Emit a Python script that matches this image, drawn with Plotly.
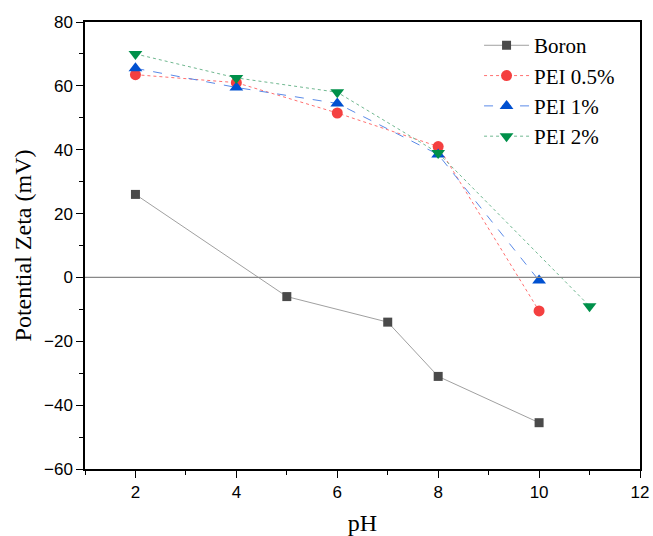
import plotly.graph_objects as go

boron_x = [2, 5, 7, 8, 10]
boron_y = [26, -6, -14, -31, -45.5]
pei05_x = [2, 4, 6, 8, 10]
pei05_y = [63.5, 61, 51.5, 41, -10.5]
pei1_x = [2, 4, 6, 8, 10]
pei1_y = [65.5, 59.5, 54.5, 38.5, -1]
pei2_x = [2, 4, 6, 8, 11]
pei2_y = [70, 62.5, 58, 39, -9]

fig = go.Figure()
fig.add_trace(go.Scatter(x=boron_x, y=boron_y, name="Boron", mode="lines+markers",
                         line=dict(color="#a0a0a0", width=1),
                         marker=dict(symbol="square", size=9, color="#4a4a4a")))
fig.add_trace(go.Scatter(x=pei05_x, y=pei05_y, name="PEI 0.5%", mode="lines+markers",
                         line=dict(color="#ff7070", width=1, dash="dot"),
                         marker=dict(symbol="circle", size=11, color="#f44040")))
fig.add_trace(go.Scatter(x=pei1_x, y=pei1_y, name="PEI 1%", mode="lines+markers",
                         line=dict(color="#5a8ae8", width=1, dash="dash"),
                         marker=dict(symbol="triangle-up", size=12, color="#0050d0")))
fig.add_trace(go.Scatter(x=pei2_x, y=pei2_y, name="PEI 2%", mode="lines+markers",
                         line=dict(color="#70b890", width=1, dash="dot"),
                         marker=dict(symbol="triangle-down", size=12, color="#00904a")))

fig.add_hline(y=0, line=dict(color="#888888", width=1.2))

axis_common = dict(showline=True, linecolor="black", linewidth=1.5, mirror=True,
                   ticks="outside", ticklen=7, tickwidth=1.2, tickcolor="black",
                   showgrid=False, zeroline=False, automargin=False,
                   tickfont=dict(family="Liberation Sans, Arial", size=17, color="black"))

fig.update_xaxes(range=[1, 12], tickvals=[2, 4, 6, 8, 10, 12],
                 minor=dict(tickvals=[1, 3, 5, 7, 9, 11], ticks="outside", ticklen=4, tickcolor="black"),
                 title=dict(text="pH", font=dict(family="Liberation Serif, Times New Roman", size=24, color="black"), standoff=14),
                 **axis_common)
fig.update_yaxes(range=[-60, 80], tickvals=[-60, -40, -20, 0, 20, 40, 60, 80],
                 minor=dict(tickvals=[-50, -30, -10, 10, 30, 50, 70], ticks="outside", ticklen=4, tickcolor="black"),
                 title=dict(text="Potential Zeta (mV)", font=dict(family="Liberation Serif, Times New Roman", size=24, color="black"), standoff=6),
                 **axis_common)

fig.update_layout(width=653, height=536, plot_bgcolor="white", paper_bgcolor="white",
                  margin=dict(l=85, r=13, t=22, b=67),
                  legend=dict(x=0.71, y=0.993, xanchor="left", yanchor="top",
                              bgcolor="rgba(0,0,0,0)",
                              font=dict(family="Liberation Serif, Times New Roman", size=21, color="black"),
                              tracegroupgap=0, itemwidth=45))

fig.write_html("out.html", config={"displayModeBar": False},
               post_script="document.body.style.margin='0';")
